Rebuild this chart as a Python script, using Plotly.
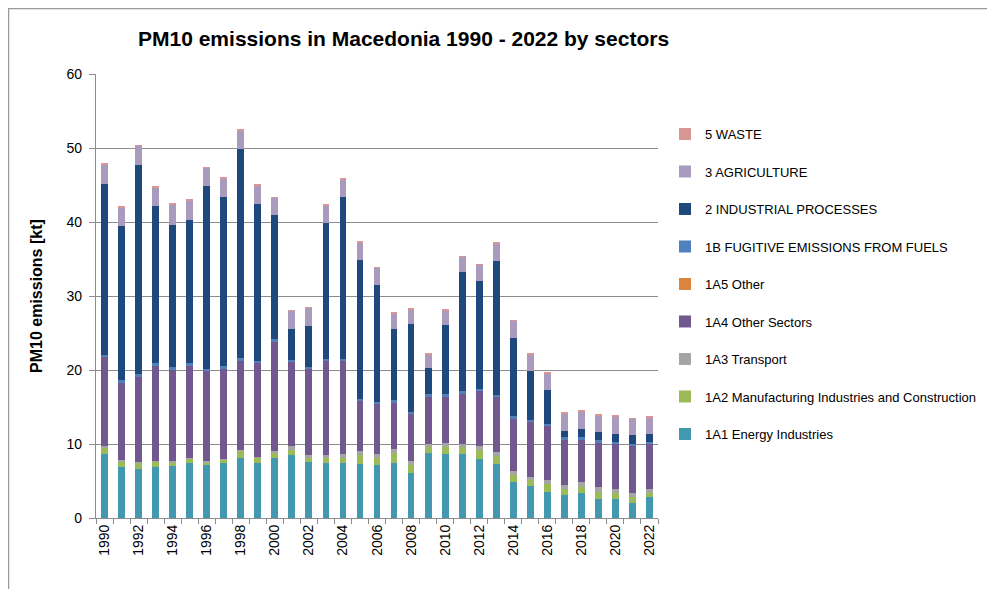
import plotly.graph_objects as go

years = list(range(1990, 2023))

# kt per sector
energy_ind = [8.6, 6.85, 6.6, 6.85, 7.0, 7.4, 7.1, 7.4, 8.15, 7.4, 8.15,
              8.55, 7.55, 7.4, 7.5, 7.35, 7.15, 7.5, 6.05, 8.85, 8.7,
              8.7, 8.0, 7.3, 4.9, 4.35, 3.55, 3.1, 3.4, 2.55, 2.55, 2.0, 2.9]
manufacturing = [0.9, 0.8, 0.9, 0.75, 0.55, 0.6, 0.4, 0.45, 1.0, 0.8, 0.75,
                 0.7, 0.5, 0.65, 0.65, 1.1, 1.0, 1.25, 1.15, 0.7, 0.85,
                 0.85, 1.2, 1.1, 0.85, 0.8, 1.0, 0.8, 0.8, 1.0, 0.8, 0.8, 0.5]
transport = [0.2, 0.15, 0.1, 0.1, 0.1, 0.15, 0.2, 0.15, 0.1, 0.1, 0.1,
             0.45, 0.5, 0.45, 0.45, 0.55, 0.45, 0.55, 0.5, 0.5, 0.55,
             0.45, 0.55, 0.55, 0.55, 0.4, 0.6, 0.6, 0.6, 0.6, 0.55, 0.55, 0.55]
other_sectors = [12.0, 10.5, 11.5, 12.9, 12.4, 12.45, 12.1, 12.2, 12.0, 12.6, 14.85,
                 11.4, 11.55, 12.7, 12.6, 6.8, 6.8, 6.3, 6.3, 6.35, 6.3,
                 6.8, 7.35, 7.35, 7.1, 7.45, 7.25, 6.1, 5.8, 6.1, 6.2, 6.35, 6.15]
other_1a5 = [0.0] * 33
fugitive = [0.3, 0.3, 0.4, 0.3, 0.3, 0.3, 0.3, 0.3, 0.35, 0.35, 0.3,
            0.3, 0.3, 0.3, 0.35, 0.3, 0.3, 0.3, 0.3, 0.3, 0.3,
            0.3, 0.3, 0.3, 0.35, 0.3, 0.3, 0.3, 0.3, 0.25, 0.2, 0.3, 0.2]
industrial = [23.2, 20.8, 28.2, 21.2, 19.3, 19.4, 24.7, 22.9, 28.3, 21.2, 16.8,
              4.2, 5.6, 18.4, 21.8, 18.8, 15.8, 9.7, 11.9, 3.6, 9.4,
              16.1, 14.6, 18.1, 10.6, 6.6, 4.6, 0.85, 1.15, 1.1, 1.1, 1.2, 1.05]
agriculture = [2.6, 2.6, 2.6, 2.6, 2.7, 2.6, 2.5, 2.5, 2.5, 2.5, 2.3,
               2.4, 2.4, 2.35, 2.4, 2.35, 2.3, 2.1, 2.0, 1.85, 2.0,
               2.1, 2.2, 2.4, 2.3, 2.2, 2.2, 2.35, 2.35, 2.25, 2.3, 2.2, 2.2]
waste = [0.1] * 33

series = [
    ("1A1 Energy Industries", energy_ind, "#4198AF"),
    ("1A2 Manufacturing Industries and Construction", manufacturing, "#9BBB59"),
    ("1A3 Transport", transport, "#A5A5A5"),
    ("1A4 Other Sectors", other_sectors, "#71588F"),
    ("1A5 Other", other_1a5, "#DB843D"),
    ("1B FUGITIVE EMISSIONS FROM FUELS", fugitive, "#4F81BD"),
    ("2 INDUSTRIAL PROCESSES", industrial, "#1F497D"),
    ("3 AGRICULTURE", agriculture, "#A99BBD"),
    ("5 WASTE", waste, "#D99694"),
]

fig = go.Figure()
for i, (name, vals, col) in enumerate(series):
    fig.add_trace(go.Bar(x=[str(y) for y in years], y=vals, name=name,
                         legendgroup=name, legendrank=100 - i,
                         marker_color=col, marker_line_width=0))

fnt = "Liberation Sans, Arial, sans-serif"
# page body has an 8px margin, so the figure is 8px smaller and shifted
fig.update_layout(
    barmode="stack", bargap=0.6,
    width=987, height=581,
    margin=dict(l=88, r=337, t=66, b=71),
    plot_bgcolor="white", paper_bgcolor="white",
    font=dict(family=fnt, size=13, color="black"),
    showlegend=True,
    legend=dict(x=1.0125, y=0.8986, xanchor="left", yanchor="top",
                traceorder="grouped", tracegroupgap=17.6,
                font=dict(size=13), itemwidth=30),
    annotations=[
        dict(text="<b>PM10 emissions in Macedonia 1990 - 2022 by sectors</b>",
             x=0.548, y=1.081, xref="paper", yref="paper", showarrow=False,
             font=dict(size=21), xanchor="center", yanchor="middle"),
        dict(text="<b>PM10 emissions [kt]</b>", x=-0.1068, y=0.5,
             xref="paper", yref="paper", showarrow=False, textangle=-90,
             font=dict(size=16), xanchor="center", yanchor="middle"),
    ],
    shapes=[dict(type="rect", xref="paper", yref="paper",
                 x0=-0.1557, x1=1.7, y0=-0.2, y1=1.1475,
                 line=dict(color="#999999", width=1.5))],
)
fig.update_yaxes(range=[0, 60], dtick=10, showgrid=True, gridcolor="#8C8C8C",
                 gridwidth=1.2, showline=True, linecolor="#8C8C8C", linewidth=1.2,
                 ticks="outside", ticklen=6, tickcolor="#8C8C8C",
                 ticklabelstandoff=4,
                 tickfont=dict(size=14), zeroline=False)
fig.update_xaxes(type="category", tickson="boundaries",
                 tickvals=[str(y) for y in years],
                 ticktext=[str(y) if y % 2 == 0 else "" for y in years],
                 tickangle=-90, ticks="outside", ticklen=5, tickcolor="#8C8C8C",
                 showline=True, linecolor="#8C8C8C", linewidth=1.2,
                 tickfont=dict(size=14))

fig.write_html("out.html")
